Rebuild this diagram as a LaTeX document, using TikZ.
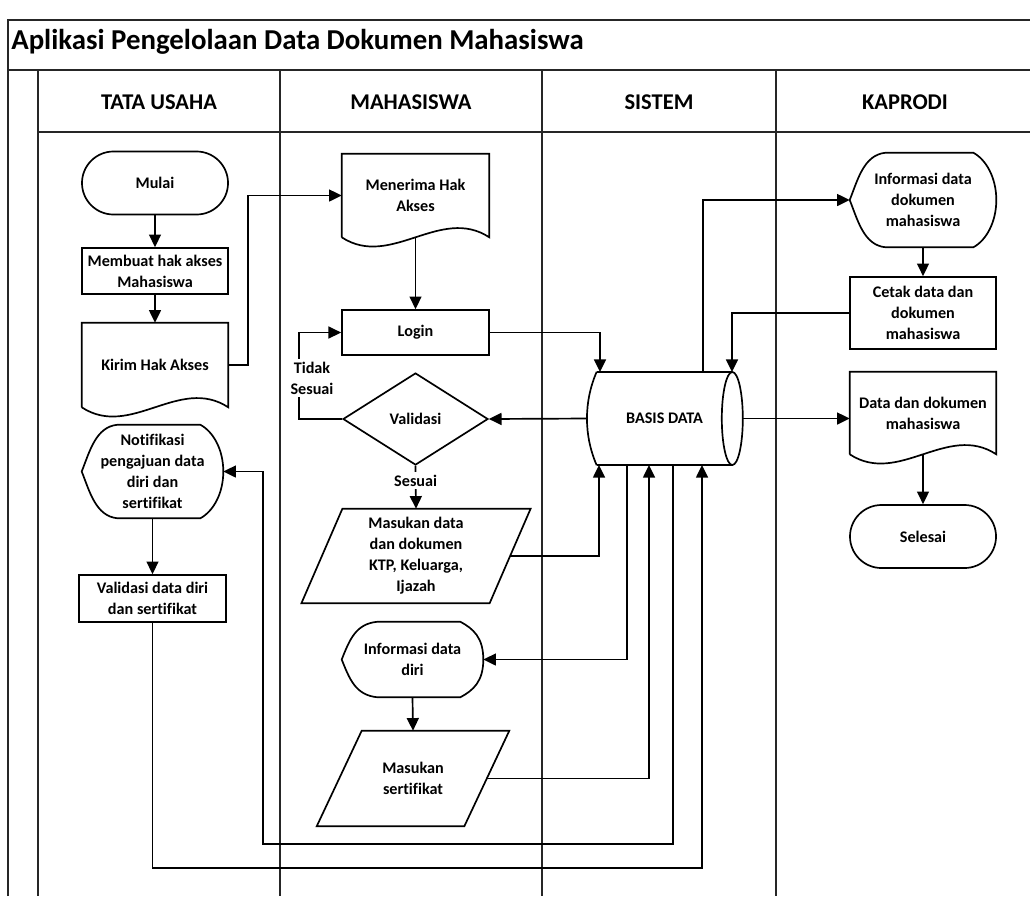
\documentclass[tikz,border=0pt]{standalone}
\usepackage{fontspec}
\setmainfont{Carlito}[Ligatures=NoCommon]
\usetikzlibrary{arrows.meta,calc,shapes.geometric,shapes.misc}

\tikzset{
  lane/.style={line width=1.2pt, black!85},
  outline/.style={line width=1.2pt},
  flowline/.style={line width=1.2pt},
  flowarrow/.style={flowline, -{Triangle[length=9pt,width=8.5pt]}},
  lbl/.style={font=\fontsize{11.5}{15}\selectfont\bfseries, align=center, inner sep=0pt},
  procbox/.style={lbl, draw, line width=1.2pt, rectangle},
  termbox/.style={lbl, draw, line width=1.2pt, rounded rectangle},
  decbox/.style={lbl, draw, line width=1.2pt, diamond},
  freebox/.style={lbl, rectangle},
  headtxt/.style={font=\fontsize{16}{19}\selectfont\bfseries, inner sep=0pt},
  titletxt/.style={font=\fontsize{20.5}{24}\selectfont\bfseries, inner sep=0pt}
}

\begin{document}
\begin{tikzpicture}[x=0.025cm, y=-0.025cm]
\useasboundingbox (0,0) rectangle (1030,896);

% swimlanes
\draw[lane] (8,896) -- (8,20) -- (1030,20);
\draw[lane] (8,70) -- (1030,70);
\draw[lane] (38,132) -- (1030,132);
\foreach \x in {38,280,542,776}
  \draw[lane] (\x,70) -- (\x,896);

\node[titletxt, anchor=west] (judul) at (11,42) {Aplikasi Pengelolaan Data Dokumen Mahasiswa};
\node[headtxt] (hdtu) at (159,102) {TATA USAHA};
\node[headtxt] (hdmhs) at (411,102) {MAHASISWA};
\node[headtxt] (hdsis) at (659,102) {SISTEM};
\node[headtxt] (hdkap) at (905,102) {KAPRODI};

% tata usaha
\node[termbox, minimum width=3.65cm, minimum height=1.575cm] (mulai) at (155,183) {Mulai};
\node[procbox, minimum width=3.65cm, minimum height=1.15cm] (buat) at (155,271) {Membuat hak akses\\Mahasiswa};
\node[freebox, minimum width=3.65cm, minimum height=2.1cm] (kirim) at (155,365) {Kirim Hak Akses};
\node[freebox, minimum width=3.525cm, minimum height=2.325cm] (notif) at (152.5,471.5) {Notifikasi\\pengajuan data\\diri dan\\sertifikat};
\node[procbox, minimum width=3.675cm, minimum height=1.175cm] (valdiri) at (152.5,598.5) {Validasi data diri\\dan sertifikat};

% mahasiswa
\node[freebox, minimum width=3.675cm, minimum height=2.075cm] (terima) at (415.5,195.5) {Menerima Hak\\Akses};
\node[procbox, minimum width=3.675cm, minimum height=1.125cm] (login) at (415.5,332.5) {Login};
\node[decbox, minimum width=3.625cm, minimum height=2.3cm] (valid) at (415.5,419) {Validasi};
\node[freebox, minimum width=4.69cm, minimum height=2.35cm] (isidata) at (416,556) {Masukan data\\dan dokumen\\KTP, Keluarga,\\Ijazah};
\node[freebox, minimum width=3.525cm, minimum height=1.875cm] (infodiri) at (412.5,659.5) {Informasi data\\diri};
\node[freebox, minimum width=3.675cm, minimum height=2.375cm] (isisert) at (413,778.5) {Masukan\\sertifikat};

% sistem
\node[freebox, minimum width=3.375cm, minimum height=2.325cm] (basis) at (664.5,418.5) {BASIS DATA};

% kaprodi
\node[freebox, minimum width=3.65cm, minimum height=2.35cm] (infodok) at (923,200) {Informasi data\\dokumen\\mahasiswa};
\node[procbox, minimum width=3.65cm, minimum height=1.8cm] (cetak) at (923,313) {Cetak data dan\\dokumen\\mahasiswa};
\node[freebox, minimum width=3.65cm, minimum height=2.05cm] (datadok) at (923,413) {Data dan dokumen\\mahasiswa};
\node[termbox, minimum width=3.65cm, minimum height=1.575cm] (selesai) at (923,536.5) {Selesai};

% outlines
\foreach \n in {kirim,terima,datadok}
  \draw[outline] (\n.south west) -- (\n.north west) -- (\n.north east) -- (\n.south east)
    .. controls +(-49,-32) and +(49,32) .. (\n.south west);
\foreach \n in {notif,infodiri,infodok}
  \draw[outline] ($(\n.north west)+(36,0)$) -- ($(\n.north east)+(-23,0)$)
    .. controls +(13,7) and +(0,-22) .. (\n.east)
    .. controls +(0,22) and +(13,-7) .. ($(\n.south east)+(-23,0)$)
    -- ($(\n.south west)+(36,0)$)
    .. controls +(-22,-2) and +(8,20) .. (\n.west)
    .. controls +(8,-20) and +(-22,2) .. cycle;
\foreach \n/\s in {isidata/20.5,isisert/22.5}
  \draw[outline] ($(\n.south west)+(-\s,0)$) -- ($(\n.north west)+(\s,0)$)
    -- ($(\n.north east)+(\s,0)$) -- ($(\n.south east)+(-\s,0)$) -- cycle;
\draw[outline] (basis.north west) -- (basis.north east);
\draw[outline] (basis.south west) -- (basis.south east);
\draw[outline] (basis.north west) .. controls +(-13,30) and +(-13,-30) .. (basis.south west);
\draw[outline] (basis.east) ellipse [x radius=0.2625cm, y radius=1.1625cm];

% ports on the database
\coordinate (dbleft) at (587,418.5);
\coordinate (dbright) at (743,418.5);
\coordinate (toplogin) at (600,372);
\coordinate (topinfo) at (703,372);
\coordinate (topcetak) at (732,372);
\coordinate (port1) at (599,465);
\coordinate (port2) at (627,465);
\coordinate (port3) at (649,465);
\coordinate (port4) at (673,465);
\coordinate (port5) at (702,465);
\coordinate (kbend) at (248,300);
\coordinate (tsbend) at (299,419);
\coordinate (nbend) at (263,844);
\coordinate (vbend) at (702,868);

% connectors
\draw[flowarrow] (mulai.south) -- (buat.north);
\draw[flowarrow] (buat.south) -- (kirim.north);
\draw[flowarrow] (kirim.east) -| (kbend) |- (terima.west);
\draw[flowarrow] (terima.south) -- (login.north);
\draw[flowarrow] (login.east) -| (toplogin);
\draw[flowarrow] (dbleft) -- (valid.east);
\draw[flowarrow] (valid.west) -- (tsbend) |- (login.west);
\node[lbl, fill=white, inner sep=2pt] (tidak) at (312,378) {Tidak\\Sesuai};
\draw[flowarrow] (valid.south) -- node[lbl, fill=white, pos=0.35, inner sep=2pt] (sesuai) {Sesuai} (isidata.north);
\draw[flowarrow] (isidata.east) -| (port1);
\draw[flowarrow] (port2) |- (infodiri.east);
\draw[flowarrow] (infodiri.south) -- (isisert.north);
\draw[flowarrow] (isisert.east) -| (port3);
\draw[flowarrow] (port4) |- (nbend) |- (notif.east);
\draw[flowarrow] (notif.south) -- (valdiri.north);
\draw[flowarrow] (valdiri.south) |- (vbend) -- (port5);
\draw[flowarrow] (topinfo) |- (infodok.west);
\draw[flowarrow] (infodok.south) -- (cetak.north);
\draw[flowarrow] (cetak.west) -| (topcetak);
\draw[flowarrow] (dbright) -- (dbright -| datadok.west);
\draw[flowarrow] (datadok.south) -- (selesai.north);
\end{tikzpicture}
\end{document}
